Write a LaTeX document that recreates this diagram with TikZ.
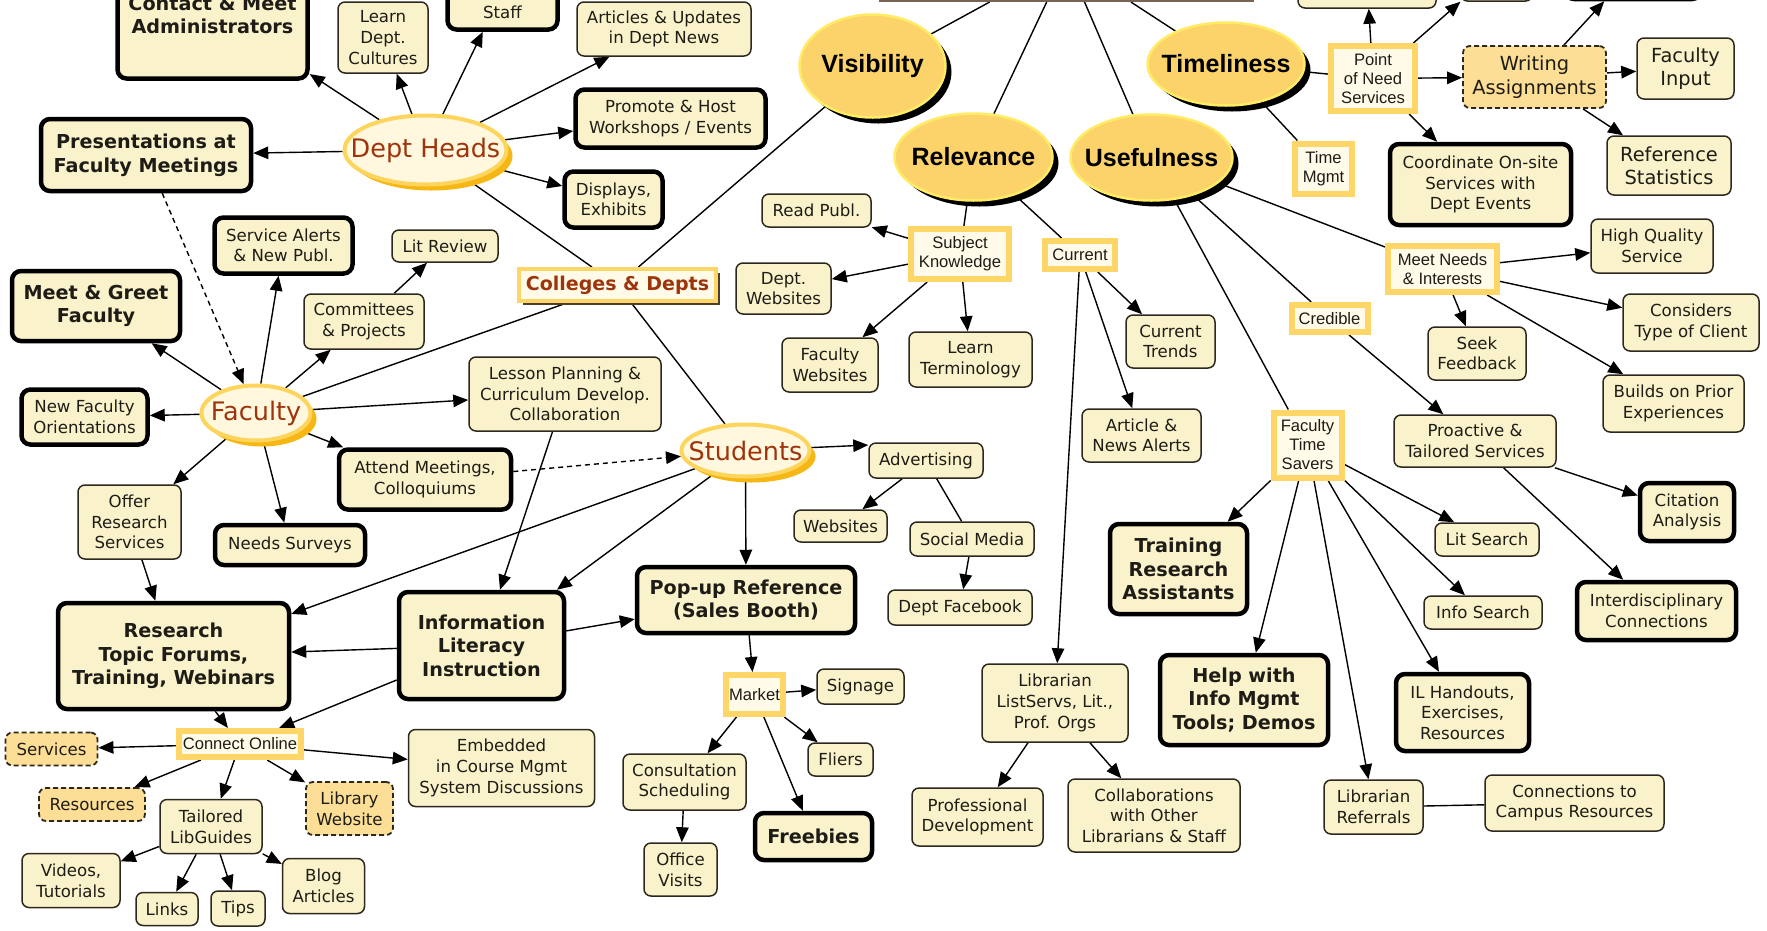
\documentclass[tikz,border=0pt]{standalone}
\usepackage{fontspec}
\newfontfamily\dvf{DejaVu Sans}
\newfontfamily\lbf{Liberation Sans}
\usetikzlibrary{shapes.geometric,arrows.meta,shadows,backgrounds}
\newcommand\fRg{\dvf\fontsize{16.6}{20.6}\selectfont}
\newcommand\fLg{\dvf\fontsize{19.4}{23.3}\selectfont}
\newcommand\fBd{\dvf\bfseries\fontsize{19.2}{23.6}\selectfont}
\newcommand\fAr{\lbf\fontsize{16.6}{19}\selectfont}
\newcommand\fEl{\dvf\fontsize{25.5}{30}\selectfont}
\newcommand\fBe{\lbf\bfseries\fontsize{25}{30}\selectfont}
\newcommand\fCd{\dvf\bfseries\fontsize{19}{22}\selectfont}
\definecolor{cream}{RGB}{250,242,202}
\definecolor{edgec}{RGB}{45,40,30}
\definecolor{orng}{RGB}{252,222,150}
\definecolor{goldf}{RGB}{254,214,104}
\definecolor{paleg}{RGB}{255,251,232}
\definecolor{goldr}{RGB}{253,212,92}
\definecolor{ivory}{RGB}{255,248,222}
\definecolor{shgold}{RGB}{246,182,20}
\definecolor{brick}{RGB}{158,52,12}
\definecolor{goldfill}{RGB}{252,211,106}
\definecolor{lemon}{RGB}{255,236,100}
\definecolor{dkbrown}{RGB}{80,62,45}
\definecolor{txt}{RGB}{30,28,22}
\definecolor{rootc}{RGB}{120,100,85}
\begin{document}
\begin{tikzpicture}[x=1pt,y=-1pt,
 every node/.style={inner sep=1pt, align=center, text=txt},
 sz/.style 2 args={minimum width=#1pt, minimum height=#2pt},
 tb/.style={draw=edgec, line width=1.5pt, fill=cream, rounded corners=7pt, font=\fRg},
 kb/.style={draw=black, line width=4.5pt, fill=cream, rounded corners=9pt, font=\fRg},
 bb/.style={kb, font=\fBd},
 db/.style={draw=edgec, line width=1.8pt, dash pattern=on 5pt off 3pt, fill=orng, rounded corners=7pt, font=\fRg},
 gb/.style={draw=goldf, line width=6pt, fill=paleg, font=\fAr},
 se/.style={ellipse, draw=goldr, line width=4pt, fill=ivory, font=\fEl, text=brick,
   drop shadow={shadow xshift=6pt, shadow yshift=-6pt, fill=shgold, opacity=1}},
 be/.style={ellipse, draw=lemon, line width=2.5pt, fill=goldfill, font=\fBe, text=black,
   drop shadow={shadow xshift=6pt, shadow yshift=-6pt, fill=black, opacity=1}},
 ar/.style={-{Triangle[length=15pt,width=12.5pt]}, line width=1.4pt},
 ln/.style={line width=1.4pt},
 dsh/.style={dash pattern=on 5pt off 4pt}]
\useasboundingbox (0,0) rectangle (1767,930);
\begin{scope}[on background layer]
\fill[white] (0,0) rectangle (1767,930);
\end{scope}
\clip (0,0) rectangle (1767,930);

% cut-off nodes along the top edge
\node[draw=rootc, line width=2pt, fill=ivory, sz={373}{82}] (root) at (1066.5,-40) {};
\node[tb, sz={138}{56}] (t1) at (1367,-20) {};
\node[tb, sz={72}{62}] (t2) at (1496.5,-30) {};
\node[kb, sz={136}{58}] (t3) at (1633,-30) {};
\node[kb, sz={190}{136}] (admin) at (212.5,10.5) {};
\node[font=\fBd] (admintxt) at (212.5,15) {Contact \& Meet\\Administrators};
\node[kb, sz={110}{77}] (staff) at (502.5,-9) {};
\node[font=\fRg] (stafftxt) at (502.5,12) {Staff};

% left part
\node[tb, sz={90}{71}] (learn) at (383,37.5) {Learn\\Dept.\\Cultures};
\node[tb, sz={174}{54}] (articles) at (664,29) {Articles \& Updates\\in Dept News};
\node[kb, sz={190}{58}] (promote) at (670.5,118.5) {Promote \& Host\\Workshops / Events};
\node[kb, sz={98}{56}] (displays) at (613.5,199.5) {Displays,\\Exhibits};
\node[bb, sz={210}{72}] (pres) at (146,155) {Presentations at\\Faculty Meetings};
\node[se, sz={162}{69}] (dh) at (425.5,150) {\makebox[0pt]{Dept Heads}};
\node[kb, sz={138}{56}] (service) at (283.5,245.5) {Service Alerts\\\& New Publ.};
\node[tb, sz={106}{32}] (litrev) at (445,246) {Lit Review};
\node[bb, sz={168}{70}] (meet) at (96,306) {Meet \& Greet\\Faculty};
\node[tb, sz={120}{55}] (comm) at (364,321.5) {Committees\\\& Projects};
\node[se, sz={109}{55}] (fac) at (256,413) {\makebox[0pt]{Faculty}};
\node[kb, sz={126}{55}] (nfo) at (84.5,417) {New Faculty\\Orientations};
\node[tb, sz={103}{74}] (offer) at (129.5,522) {Offer\\Research\\Services};
\node[kb, sz={150}{40}] (needs) at (290,545) {Needs Surveys};
\node[kb, sz={172}{60}] (attend) at (425,479.5) {Attend Meetings,\\Colloquiums};
\node[tb, sz={192}{74}] (lesson) at (565,394) {Lesson Planning \&\\Curriculum Develop.\\Collaboration};
\node[se, sz={128}{52}] (stud) at (745.5,450.5) {\makebox[0pt]{Students}};
\node[draw=goldf, line width=4pt, fill=paleg, font=\fCd, text=brick, sz={197}{32},
   drop shadow={shadow xshift=4pt, shadow yshift=-4pt, fill=dkbrown, opacity=1}] (colleges) at (617.5,285) {Colleges \& Depts};
\node[bb, sz={231}{106}] (research) at (173.5,656) {Research\\Topic Forums,\\Training, Webinars};
\node[bb, sz={165}{107}] (infolit) at (481.5,645.5) {Information\\Literacy\\Instruction};
\node[bb, sz={218}{66}] (popup) at (746,600) {Pop-up Reference\\(Sales Booth)};
\node[gb, sz={122}{26}] (connect) at (240,744) {Connect Online};
\node[db, sz={92}{33}] (services) at (51.5,749) {Services};
\node[db, sz={106}{33}] (resources) at (92,804.5) {Resources};
\node[tb, sz={102}{54}] (libguides) at (211,826.5) {Tailored\\LibGuides};
\node[db, sz={87}{53}] (libweb) at (349.5,808.5) {Library\\Website};
\node[tb, sz={186}{77}] (embedded) at (501.5,768) {Embedded\\in Course Mgmt\\System Discussions};
\node[tb, sz={98}{54}] (videos) at (71,880.5) {Videos,\\Tutorials};
\node[tb, sz={62}{33}] (links) at (167,909) {Links};
\node[tb, sz={54}{35}] (tips) at (238,908.5) {Tips};
\node[tb, sz={82}{55}] (blog) at (323.5,886) {Blog\\Articles};
\node[gb, sz={57}{39}] (market) at (754.5,694.5) {Market};
\node[tb, sz={87}{35}] (signage) at (860.5,686.5) {Signage};
\node[tb, sz={65}{33}] (fliers) at (840.5,759.5) {Fliers};
\node[tb, sz={123}{56}] (consult) at (684.5,782) {Consultation\\Scheduling};
\node[tb, sz={73}{53}] (office) at (680.5,869.5) {Office\\Visits};
\node[bb, sz={117}{47}] (freebies) at (813.5,836.5) {Freebies};
\node[tb, sz={114}{35}] (adv) at (926,460.5) {Advertising};
\node[tb, sz={93}{32}] (websites) at (840.5,526) {Websites};
\node[tb, sz={124}{34}] (social) at (972,539) {Social Media};
\node[tb, sz={144}{35}] (facebook) at (960,607.5) {Dept Facebook};

% middle
\node[be, sz={146}{103}] (vis) at (872.5,66) {\makebox[0pt]{Visibility}};
\node[be, sz={158}{87}] (rel) at (973.5,157) {\makebox[0pt]{Relevance}};
\node[be, sz={162}{86}] (use) at (1151.5,157.5) {\makebox[0pt]{Usefulness}};
\node[be, sz={157}{83}] (time) at (1226,64) {\makebox[0pt]{Timeliness}};
\node[tb, sz={109}{33}] (readpubl) at (816.5,210.5) {Read Publ.};
\node[tb, sz={95}{51}] (deptweb) at (783.5,288.5) {Dept.\\Websites};
\node[gb, sz={98}{50}] (sk) at (960,254) {Subject\\Knowledge};
\node[tb, sz={96}{54}] (facweb) at (830,365) {Faculty\\Websites};
\node[tb, sz={123}{55}] (learnterm) at (970.5,359.5) {Learn\\Terminology};
\node[gb, sz={70}{28}] (current) at (1080,255) {Current};
\node[tb, sz={89}{53}] (trends) at (1170.5,341.5) {Current\\Trends};
\node[tb, sz={119}{53}] (artnews) at (1141.5,435.5) {Article \&\\News Alerts};
\node[tb, sz={146}{78}] (listserv) at (1055,703) {Librarian\\ListServs, Lit.,\\Prof. Orgs};
\node[tb, sz={131}{58}] (profdev) at (977.5,817) {Professional\\Development};
\node[tb, sz={172}{73}] (collab) at (1154,815.5) {Collaborations\\with Other\\Librarians \& Staff};
\node[bb, sz={137}{90}] (training) at (1178.5,569) {Training\\Research\\Assistants};
\node[bb, sz={168}{90}] (help) at (1244,700) {Help with\\Info Mgmt\\Tools; Demos};

% right part
\node[gb, sz={57}{50}] (timemgmt) at (1323.5,168.5) {Time\\Mgmt};
\node[gb, sz={84}{65}] (pon) at (1373,78.5) {Point\\of Need\\Services};
\node[db, font=\fLg, sz={143}{62}] (wa) at (1534.5,77) {Writing\\Assignments};
\node[tb, font=\fLg, sz={97}{61}] (facinput) at (1685.5,68.5) {Faculty\\Input};
\node[kb, sz={181}{81}] (coord) at (1480.5,184.5) {Coordinate On-site\\Services with\\Dept Events};
\node[tb, font=\fLg, sz={124}{59}] (refstats) at (1669,165.5) {Reference\\Statistics};
\node[tb, sz={122}{54}] (hq) at (1652,246) {High Quality\\Service};
\node[gb, sz={109}{46}] (mn) at (1442.5,269) {Meet Needs\\\& Interests};
\node[tb, sz={136}{57}] (considers) at (1691,322.5) {Considers\\Type of Client};
\node[tb, sz={98}{53}] (seek) at (1477,353.5) {Seek\\Feedback};
\node[tb, sz={141}{57}] (builds) at (1673.5,403.5) {Builds on Prior\\Experiences};
\node[gb, sz={76}{27}] (credible) at (1329.5,318.5) {Credible};
\node[tb, sz={162}{52}] (proactive) at (1475,441) {Proactive \&\\Tailored Services};
\node[gb, sz={68}{65}] (fts) at (1307.5,445) {Faculty\\Time\\Savers};
\node[kb, sz={94}{58}] (citation) at (1687,512) {Citation\\Analysis};
\node[tb, sz={104}{33}] (litsearch) at (1487,539.5) {Lit Search};
\node[tb, sz={118}{33}] (infosearch) at (1483,612.5) {Info Search};
\node[kb, sz={159}{58}] (interdisc) at (1656.5,611) {Interdisciplinary\\Connections};
\node[kb, sz={133}{77}] (ilhand) at (1462.5,712.5) {IL Handouts,\\Exercises,\\Resources};
\node[tb, sz={99}{54}] (referrals) at (1373.5,807) {Librarian\\Referrals};
\node[tb, sz={179}{56}] (campus) at (1574.5,803) {Connections to\\Campus Resources};

\begin{scope}[on background layer]
\draw[ar] (dh) -- (admin);
\draw[ar] (dh) -- (learn);
\draw[ar] (dh) -- (staff);
\draw[ar] (dh) -- (articles);
\draw[ar] (dh) -- (promote);
\draw[ar] (dh) -- (displays);
\draw[ar] (dh) -- (pres);
\draw[ln] (dh) -- (colleges);
\draw[ar,dsh] (pres) -- (fac);
\draw[ar] (fac) -- (meet);
\draw[ar] (fac) -- (service);
\draw[ar] (fac) -- (comm);
\draw[ar] (comm) -- (litrev);
\draw[ln] (fac) -- (colleges);
\draw[ar] (fac) -- (lesson);
\draw[ar] (fac) -- (nfo);
\draw[ar] (fac) -- (offer);
\draw[ar] (fac) -- (needs);
\draw[ar] (fac) -- (attend);
\draw[ar,dsh] (attend) -- (stud);
\draw[ar] (offer) -- (research);
\draw[ln] (colleges) -- (vis);
\draw[ln] (colleges) -- (stud);
\draw[ar] (stud) -- (adv.165);
\draw[ar] (stud) -- (popup);
\draw[ar] (stud) -- (infolit);
\draw[ar] (stud) -- (research);
\draw[ar] (lesson) -- (infolit);
\draw[ar] (infolit) -- (research);
\draw[ar] (infolit) -- (popup);
\draw[ar] (infolit) -- (connect);
\draw[ar] (research) -- (connect);
\draw[ar] (connect) -- (services);
\draw[ar] (connect) -- (resources);
\draw[ar] (connect) -- (libguides);
\draw[ar] (connect) -- (libweb);
\draw[ar] (connect) -- (embedded);
\draw[ar] (libguides) -- (videos);
\draw[ar] (libguides) -- (links);
\draw[ar] (libguides) -- (tips);
\draw[ar] (libguides) -- (blog);
\draw[ar] (popup) -- (market);
\draw[ar] (market) -- (signage);
\draw[ar] (market) -- (fliers);
\draw[ar] (market) -- (consult);
\draw[ar] (market) -- (freebies);
\draw[ar] (consult) -- (office);
\draw[ar] (adv) -- (websites);
\draw[ln] (adv) -- (social);
\draw[ar] (social) -- (facebook);
\draw[ln] (root) -- (vis);
\draw[ln] (root) -- (rel);
\draw[ln] (root) -- (use);
\draw[ln] (root) -- (time);
\draw[ln] (rel) -- (sk);
\draw[ln] (rel) -- (current);
\draw[ar] (sk) -- (readpubl);
\draw[ar] (sk) -- (deptweb);
\draw[ar] (sk) -- (facweb);
\draw[ar] (sk) -- (learnterm);
\draw[ar] (current) -- (trends);
\draw[ar] (current) -- (artnews);
\draw[ar] (current) -- (listserv);
\draw[ar] (listserv) -- (profdev);
\draw[ar] (listserv) -- (collab);
\draw[ln] (use) -- (mn);
\draw[ln] (use) -- (credible);
\draw[ln] (use) -- (fts);
\draw[ar] (mn) -- (hq);
\draw[ar] (mn) -- (considers);
\draw[ar] (mn) -- (seek);
\draw[ar] (mn) -- (builds);
\draw[ar] (credible) -- (proactive);
\draw[ar] (proactive) -- (citation);
\draw[ar] (proactive) -- (interdisc);
\draw[ar] (fts) -- (training);
\draw[ar] (fts) -- (help);
\draw[ar] (fts) -- (litsearch);
\draw[ar] (fts) -- (infosearch);
\draw[ar] (fts) -- (ilhand);
\draw[ar] (fts) -- (referrals);
\draw[ln] (referrals) -- (campus);
\draw[ln] (time) -- (pon);
\draw[ln] (time) -- (timemgmt);
\draw[ar] (pon) -- (t1);
\draw[ar] (pon) -- (t2);
\draw[ar] (pon) -- (wa);
\draw[ar] (pon) -- (coord);
\draw[ar] (wa) -- (facinput);
\draw[ar] (wa) -- (refstats);
\draw[ar] (wa) -- (t3);
\end{scope}
\end{tikzpicture}
\end{document}
